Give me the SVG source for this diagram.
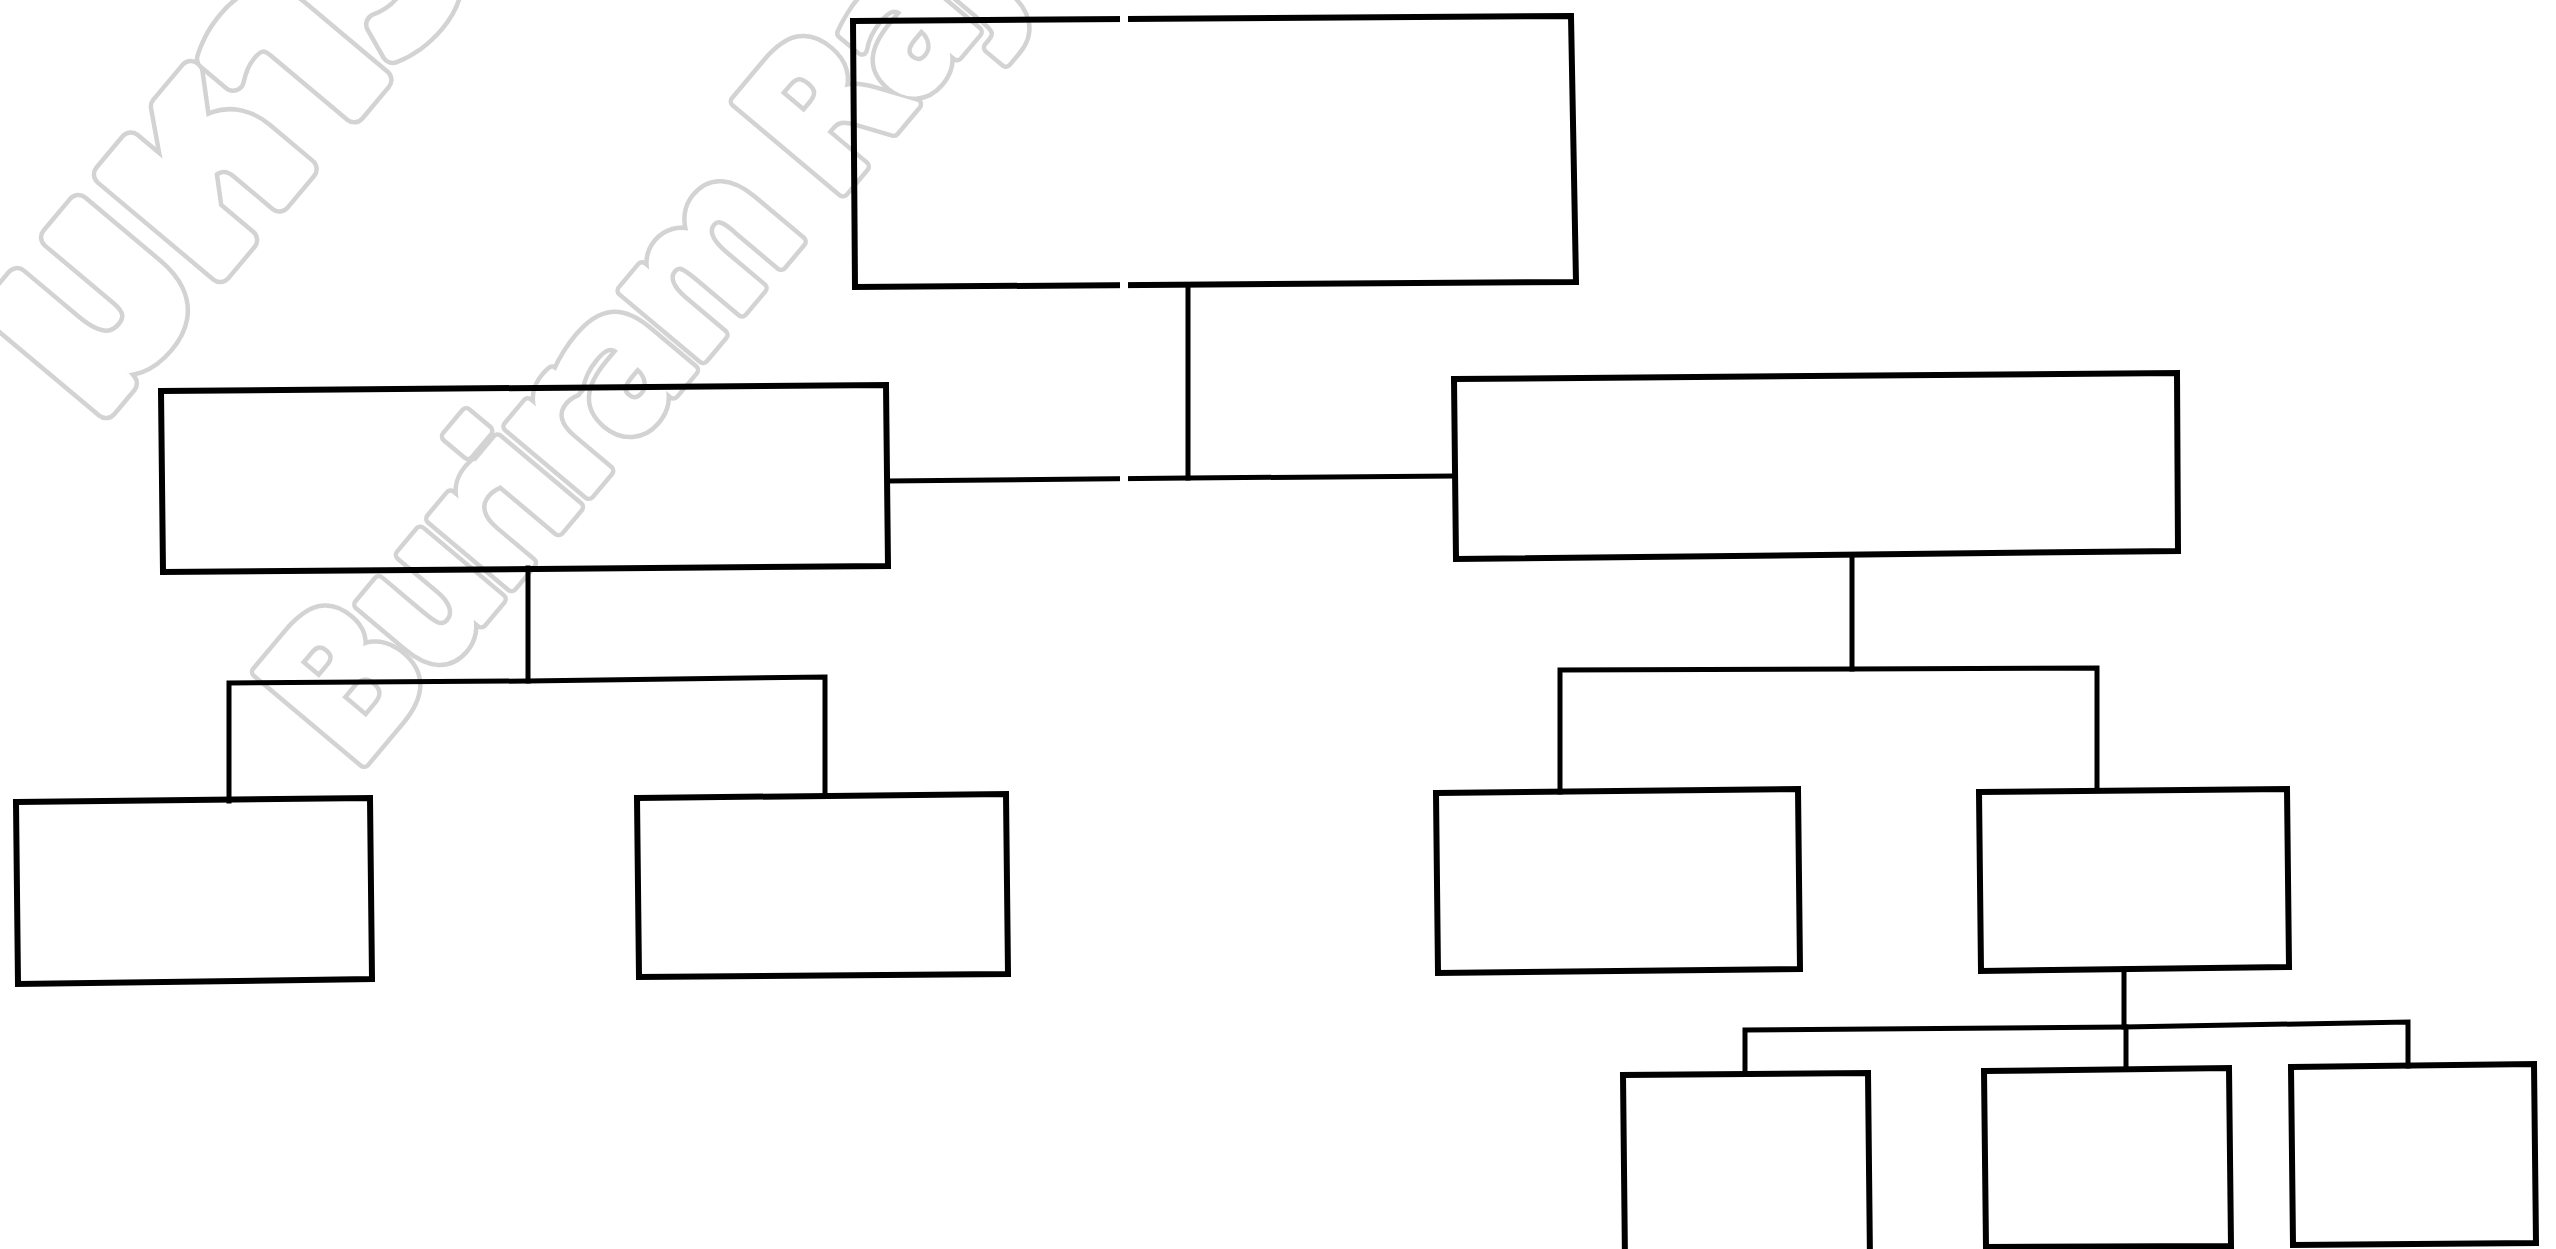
<svg xmlns="http://www.w3.org/2000/svg" xmlns:xlink="http://www.w3.org/1999/xlink" width="2556" height="1249" viewBox="0 0 2556 1249">
<style>
.bg{fill:#ffffff}
.wmtext{font-weight:bold}
.wmout{fill:none;stroke:#d3d3d3;stroke-linejoin:round}
.wmin{fill:#ffffff;stroke:#ffffff;stroke-linejoin:round}
.box{fill:none;stroke:#000;stroke-width:6;stroke-linejoin:miter}
.conn{fill:none;stroke:#000;stroke-width:5;stroke-linecap:square}
</style>
<defs>
<text id="wm-th" class="wmtext" transform="translate(92,424) rotate(-50)" font-family="Noto Sans Thai, Loma, Garuda, DejaVu Sans, sans-serif" font-size="275">มหาวิทยาลัยราชภัฏบุรีรัมย์</text>
<text id="wm-en" class="wmtext" transform="translate(354,774) rotate(-50)" font-family="DejaVu Sans Condensed, DejaVu Sans, sans-serif" font-stretch="condensed" font-size="192" letter-spacing="-12">Buriram Rajabhat</text>
</defs>
<rect class="bg" x="0" y="0" width="2556" height="1249"/>
<g id="watermark">
<use xlink:href="#wm-th" class="wmout" stroke-width="26"/>
<use xlink:href="#wm-th" class="wmin" stroke-width="17"/>
<use xlink:href="#wm-en" class="wmout" stroke-width="14.5"/>
<use xlink:href="#wm-en" class="wmin" stroke-width="5.5"/>
</g>
<g id="connectors">
<polyline class="conn" points="1188,287 1188,478"/>
<polyline class="conn" points="888,481 1188,478 1453,476"/>
<polyline class="conn" points="528,568 528,681"/>
<polyline class="conn" points="229,801 229,683 528,681 825,677 825,795"/>
<polyline class="conn" points="1852,555 1852,669"/>
<polyline class="conn" points="1560,792 1560,670 1852,669 2097,668 2097,790"/>
<polyline class="conn" points="2124,969 2124,1027"/>
<polyline class="conn" points="1745,1074 1745,1030 2124,1027 2408,1022 2408,1066"/>
<polyline class="conn" points="2126,1027 2126,1069"/>
</g>
<g id="node-top"><polygon class="box" points="853,21 1571,16 1576,282 855,287"/></g>
<g id="node-left"><polygon class="box" points="161,391 886,385 888,566 163,572"/></g>
<g id="node-right"><polygon class="box" points="1454,379 2177,373 2178,551 1456,559"/></g>
<g id="node-left-1"><polygon class="box" points="16,802 370,798 372,979 18,984"/></g>
<g id="node-left-2"><polygon class="box" points="637,798 1006,794 1008,974 639,977"/></g>
<g id="node-right-1"><polygon class="box" points="1436,793 1798,789 1800,969 1438,973"/></g>
<g id="node-right-2"><polygon class="box" points="1979,792 2287,789 2289,967 1981,971"/></g>
<g id="node-sub-1"><polyline class="box" points="1625,1262 1623,1075 1868,1073 1870,1262"/></g>
<g id="node-sub-2"><polygon class="box" points="1984,1071 2229,1068 2231,1246 1986,1247"/></g>
<g id="node-sub-3"><polygon class="box" points="2291,1067 2534,1064 2536,1243 2293,1245"/></g>
<rect x="1120" y="0" width="8" height="500" fill="#ffffff"/>
</svg>
